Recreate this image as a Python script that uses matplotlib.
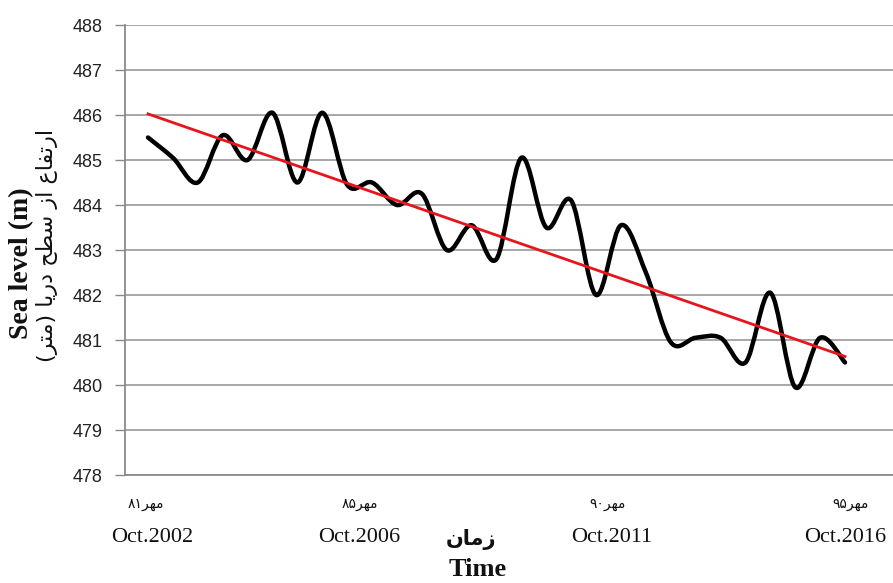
import re
import numpy as np
import matplotlib
matplotlib.use("Agg")
import matplotlib.pyplot as plt
from matplotlib.path import Path
from matplotlib.patches import PathPatch
from matplotlib import transforms

# ---------------- data ----------------
# semi-annual sea level readings, Oct.2002 ... Oct.2016
sea_level = [485.5, 485.05, 484.5, 485.55, 485.0, 486.05, 484.5, 486.05, 484.45, 484.5,
             484.0, 484.25, 483.0, 483.55, 482.8, 485.05, 483.5, 484.1, 482.0, 483.55,
             482.5, 480.95, 481.05, 481.05, 480.5, 482.05, 479.95, 481.05, 480.5]
tick_index = [0, 8, 18, 28]
tick_labels_en = ["Oct.2002", "Oct.2006", "Oct.2011", "Oct.2016"]
tick_labels_fa = ["مهر۸۱", "مهر۸۵", "مهر۹۰", "مهر۹۵"]
y_ticks = list(range(478, 489))
ylabel_en = "Sea level (m)"
ylabel_fa = "ارتفاع از سطح دریا (متر)"
xlabel_en = "Time"
xlabel_fa = "زمان"

# ---------------- minimal Persian shaping (visual order) ----------------
FORMS = {  # isolated, final, initial, medial
    'ا': ('\uFE8D', '\uFE8E', None, None),
    'د': ('\uFEA9', '\uFEAA', None, None),
    'ر': ('\uFEAD', '\uFEAE', None, None),
    'ز': ('\uFEAF', '\uFEB0', None, None),
    'ت': ('\uFE95', '\uFE96', '\uFE97', '\uFE98'),
    'ح': ('\uFEA1', '\uFEA2', '\uFEA3', '\uFEA4'),
    'س': ('\uFEB1', '\uFEB2', '\uFEB3', '\uFEB4'),
    'ط': ('\uFEC1', '\uFEC2', '\uFEC3', '\uFEC4'),
    'ع': ('\uFEC9', '\uFECA', '\uFECB', '\uFECC'),
    'ف': ('\uFED1', '\uFED2', '\uFED3', '\uFED4'),
    'م': ('\uFEE1', '\uFEE2', '\uFEE3', '\uFEE4'),
    'ن': ('\uFEE5', '\uFEE6', '\uFEE7', '\uFEE8'),
    'ه': ('\uFEE9', '\uFEEA', '\uFEEB', '\uFEEC'),
    'ی': ('\uFBFC', '\uFBFD', '\uFBFE', '\uFBFF'),
}
MIRROR = {'(': ')', ')': '('}


def visual(s):
    shaped = []
    for k, ch in enumerate(s):
        if ch not in FORMS:
            shaped.append(ch)
            continue
        iso, fin, ini, med = FORMS[ch]
        prev = s[k - 1] if k > 0 else None
        nxt = s[k + 1] if k + 1 < len(s) else None
        jp = prev in FORMS and FORMS[prev][2] is not None
        jn = ini is not None and nxt in FORMS
        shaped.append(med if (jp and jn) else fin if jp else ini if jn else iso)
    tokens = re.findall(r'[0-9\u06F0-\u06F9]+|.', ''.join(shaped))
    return ''.join(MIRROR.get(t, t) for t in reversed(tokens))


# ---------------- figure ----------------
W, H = 893, 583
fig = plt.figure(figsize=(W / 100, H / 100), dpi=100)
fig.patch.set_facecolor('white')
ax = fig.add_axes([125 / W, 1 - 475 / H, (W - 125) / W, 450 / H])

n = len(sea_level)
xs = np.arange(n)
ys = np.array(sea_level)

# smoothed line (Catmull-Rom as cubic Bezier segments)
P = np.column_stack([xs, ys])
E = np.vstack([P[0], P, P[-1]])
verts = [P[0]]
codes = [Path.MOVETO]
for i in range(n - 1):
    p0, p1, p2, p3 = E[i], E[i + 1], E[i + 2], E[i + 3]
    verts += [p1 + (p2 - p0) / 6.0, p2 - (p3 - p1) / 6.0, p2]
    codes += [Path.CURVE4] * 3
ax.add_patch(PathPatch(Path(verts, codes), facecolor='none', edgecolor='black',
                       linewidth=3.2, capstyle='round', joinstyle='round', zorder=3))

# linear trend line
slope, intercept = np.polyfit(xs, ys, 1)
ax.plot([xs[0], xs[-1]], [intercept + slope * xs[0], intercept + slope * xs[-1]],
        color='#e8141b', linewidth=2.0, zorder=4)

px_per_unit = 24.9
ax.set_xlim(-23 / px_per_unit, (n - 1) + 48 / px_per_unit)
ax.set_ylim(478, 488)
ax.set_yticks(y_ticks)
ax.set_yticklabels([str(v) for v in y_ticks], fontsize=13, family='Liberation Sans', color='#222222')
ax.tick_params(axis='y', direction='out', length=7, width=1, color='#8a8a8a', pad=9)
ax.set_xticks([])
ax.grid(axis='y', color='#a0a0a0', linewidth=1.3)
ax.set_axisbelow(True)
for side in ('top', 'right'):
    ax.spines[side].set_visible(False)
for side in ('left', 'bottom'):
    ax.spines[side].set_color('#8a8a8a')
    ax.spines[side].set_linewidth(1.3)

# x tick labels (two lines)
blend = transforms.blended_transform_factory(ax.transData, fig.transFigure)
en_nudge = [4, 12, 16, 0]
fa_nudge = [-2, 13, 11, 6]
for k, idx in enumerate(tick_index):
    t_en = transforms.offset_copy(blend, fig=fig, x=en_nudge[k], y=0, units='dots')
    t_fa = transforms.offset_copy(blend, fig=fig, x=fa_nudge[k], y=0, units='dots')
    ax.text(idx, 1 - 538 / H, tick_labels_en[k], transform=t_en, ha='center', va='center',
            fontsize=16, family='Liberation Serif', color='#111111')
    ax.text(idx, 1 - 504 / H, visual(tick_labels_fa[k]), transform=t_fa, ha='center', va='center',
            fontsize=10, family=['DejaVu Sans'], color='#111111')

# axis titles
fig.text(471 / W, 1 - 540 / H, visual(xlabel_fa), ha='center', va='center',
         fontsize=15, fontweight='bold', family=['DejaVu Sans'], color='#111111')
fig.text(478 / W, 1 - 569 / H, xlabel_en, ha='center', va='center',
         fontsize=19, fontweight='bold', family='Liberation Serif', color='#111111')
fig.text(22 / W, 1 - 263 / H, ylabel_en, ha='center', va='center', rotation=90,
         fontsize=20, fontweight='bold', family='Liberation Serif', color='#111111')
fig.text(47 / W, 1 - 245 / H, visual(ylabel_fa), ha='center', va='center', rotation=90,
         fontsize=16, family=['DejaVu Sans'], color='#111111')

fig.savefig('out.png', dpi=100, facecolor='white')
